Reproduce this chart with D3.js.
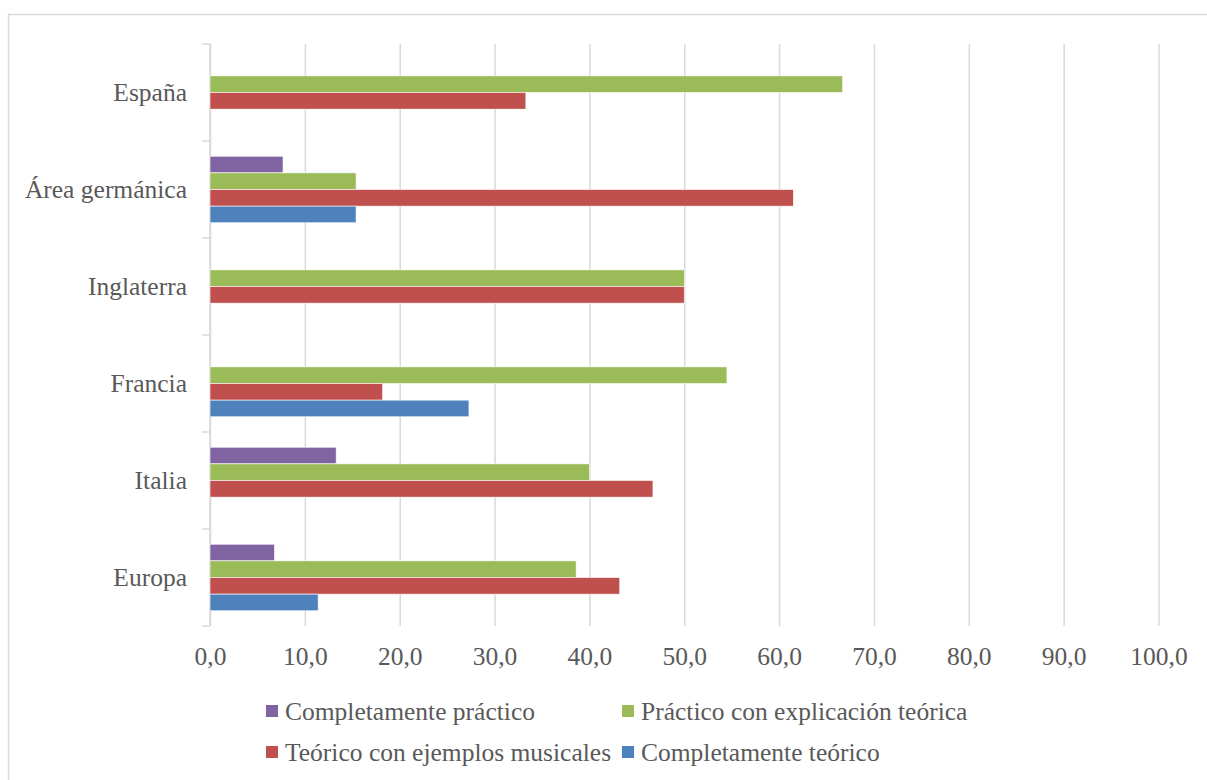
<!DOCTYPE html>
<html>
<head>
<meta charset="utf-8">
<script src="https://cdn.jsdelivr.net/npm/d3@7"></script>
<style>
  body { margin: 0; background: #fff; }
  text { font-family: "Liberation Serif", serif; fill: #595959; }
</style>
</head>
<body>
<script>
let svgWidth = 1207;
let svgHeight = 780;

let margins = { top: 44, right: 49, bottom: 154, left: 210 };
let chartWidth = svgWidth - margins.left - margins.right;
let chartHeight = svgHeight - margins.top - margins.bottom;
let fontSize = '25.5px';

// data
let categories = ['España', 'Área germánica', 'Inglaterra', 'Francia', 'Italia', 'Europa'];
let seriesNames = ['Completamente práctico', 'Práctico con explicación teórica',
  'Teórico con ejemplos musicales', 'Completamente teórico'];
let seriesColors = ['#8064A2', '#9BBB59', '#C0504D', '#4F81BD'];
let completamentePractico = [0, 7.7, 0, 0, 13.3, 6.8];
let practicoExplicacion = [66.7, 15.4, 50.0, 54.5, 40.0, 38.6];
let teoricoEjemplos = [33.3, 61.5, 50.0, 18.2, 46.7, 43.2];
let completamenteTeorico = [0, 15.4, 0, 27.3, 0, 11.4];
let xTicks = [0, 10, 20, 30, 40, 50, 60, 70, 80, 90, 100];

let seriesValues = [completamentePractico, practicoExplicacion, teoricoEjemplos, completamenteTeorico];

let data = categories.map((c, i) => ({
  cat: c,
  vals: seriesNames.map((s, j) => ({ name: s, value: seriesValues[j][i], color: seriesColors[j] }))
}));

let svg = d3.select('body')
  .append('svg')
  .attr('width', svgWidth)
  .attr('height', svgHeight);

// outer border
svg.append('rect')
  .attr('x', 8.5).attr('y', 14.5)
  .attr('width', 1220).attr('height', 800)
  .attr('fill', 'none')
  .attr('stroke', '#d9d9d9')
  .attr('stroke-width', 1.5);

let chart = svg.append('g')
  .attr('transform', `translate(${margins.left}, ${margins.top})`);

let x = d3.scaleLinear().domain([0, 100]).range([0, chartWidth + 0.5]);
let y0 = d3.scaleBand().domain(categories).range([0, chartHeight]);
let pad = y0.bandwidth() * 0.157;
let y1 = d3.scaleBand().domain(seriesNames).range([pad, y0.bandwidth() - pad]);

// gridlines
let grid = chart.append('g')
  .call(d3.axisBottom(x).tickValues(xTicks).tickSize(chartHeight).tickFormat(''));
grid.select('.domain').remove();
grid.selectAll('line').attr('stroke', '#d9d9d9').attr('stroke-width', 1.5);

// x tick labels
let xAxis = chart.append('g')
  .attr('transform', `translate(0, ${chartHeight})`)
  .call(d3.axisBottom(x).tickValues(xTicks).tickSize(0).tickPadding(21)
    .tickFormat(d => d3.format('.1f')(d).replace('.', ',')));
xAxis.select('.domain').remove();
xAxis.selectAll('text').style('font-size', fontSize).attr('fill', '#595959');

// y axis line with ticks at band boundaries
let bounds = categories.map(c => y0(c)).concat([chartHeight]);
chart.append('line')
  .attr('x1', 0).attr('x2', 0).attr('y1', 0).attr('y2', chartHeight)
  .attr('stroke', '#d9d9d9').attr('stroke-width', 1.5);
chart.selectAll('.ytick')
  .data(bounds)
  .enter()
  .append('line')
  .attr('x1', -8).attr('x2', 0)
  .attr('y1', d => d).attr('y2', d => d)
  .attr('stroke', '#d9d9d9').attr('stroke-width', 1.5);

let yAxis = chart.append('g')
  .call(d3.axisLeft(y0).tickSize(0).tickPadding(23));
yAxis.select('.domain').remove();
yAxis.selectAll('text').style('font-size', fontSize).attr('fill', '#595959');

// bars
let groups = chart.selectAll('.group')
  .data(data)
  .enter()
  .append('g')
  .attr('transform', d => `translate(0, ${y0(d.cat)})`);

groups.selectAll('rect')
  .data(d => d.vals.filter(v => v.value > 0))
  .enter()
  .append('rect')
  .attr('x', x(0))
  .attr('y', d => y1(d.name))
  .attr('width', d => x(d.value) - x(0))
  .attr('height', y1.bandwidth())
  .attr('fill', d => d.color)
  .attr('stroke', '#fff')
  .attr('stroke-width', 0.6);

// legend
let legendPos = [[266, 711], [622, 711], [266, 752], [622, 752]];
let legend = svg.selectAll('.legend')
  .data(seriesNames)
  .enter()
  .append('g')
  .attr('transform', (d, i) => `translate(${legendPos[i][0]}, ${legendPos[i][1]})`);

legend.append('rect')
  .attr('x', 0).attr('y', -6)
  .attr('width', 12).attr('height', 12)
  .attr('fill', (d, i) => seriesColors[i]);

legend.append('text')
  .attr('x', 19).attr('y', 0)
  .attr('dy', '0.35em')
  .style('font-size', fontSize)
  .text(d => d);
</script>
</body>
</html>
